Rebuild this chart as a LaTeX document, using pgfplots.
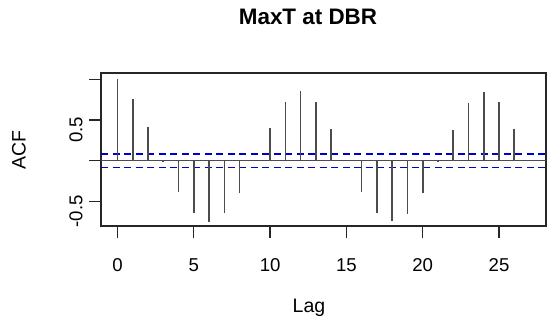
\documentclass[border=0pt]{standalone}
\usepackage{pgfplots}
\pgfplotsset{compat=1.18}
\usepackage{fontspec}
\setmainfont{Liberation Sans}
\begin{document}
\fontsize{18.6bp}{22bp}\selectfont
\begin{tikzpicture}[x=1bp,y=1bp]
\useasboundingbox (0,0) rectangle (547,331);
\begin{axis}[at={(101bp,105bp)}, anchor=south west, scale only axis,
  width=445bp, height=153bp,
  xmin=-1.08, xmax=28.08, ymin=-0.802, ymax=1.077,
  xtick={0,5,10,15,20,25}, ytick={-0.5,0,0.5,1},
  yticklabels={-0.5,,0.5,},
  xtick pos=bottom, ytick pos=left,
  tick align=outside, major tick length=12bp,
  tick style={black!85, line width=1.2bp},
  axis line style={black!85, line width=1.2bp},
  /pgf/number format/assume math mode=true,
  xticklabel style={font=\fontsize{18.6bp}{22bp}\selectfont, anchor=north, yshift=-14bp},
  yticklabel style={font=\fontsize{18.6bp}{22bp}\selectfont, rotate=90, anchor=south, xshift=-10bp},
  clip=false,
]
\addplot[black!70, line width=1.5bp] coordinates {(-1.08,0) (28.08,0)};
\addplot[blue!80!black, line width=1.5bp, dash pattern=on 7bp off 4.5bp] coordinates {(-1.08,0.082) (28.08,0.082)};
\addplot[blue!80!black, line width=1.5bp, dash pattern=on 7bp off 4.5bp] coordinates {(-1.08,-0.081) (28.08,-0.081)};
\addplot[ycomb, black!70, line width=1.6bp, mark=none] coordinates {
(0,1.0) (1,0.754) (2,0.418) (3,-0.01) (4,-0.389) (5,-0.648) (6,-0.75) (7,-0.648)
(8,-0.40) (9,0.01) (10,0.398) (11,0.717) (12,0.857) (13,0.725) (14,0.389)
(15,0.005) (16,-0.389) (17,-0.64) (18,-0.742) (19,-0.656) (20,-0.40) (21,-0.01)
(22,0.377) (23,0.713) (24,0.848) (25,0.717) (26,0.389) (27,0.01)};
\end{axis}
\node[font=\bfseries\fontsize{22.4bp}{26bp}\selectfont] at (308,314) {MaxT at DBR};
\node[font=\fontsize{19.5bp}{23bp}\selectfont] at (309,23) {Lag};
\node[font=\fontsize{19.5bp}{23bp}\selectfont, rotate=90] at (19,181) {ACF};
\end{tikzpicture}
\end{document}
